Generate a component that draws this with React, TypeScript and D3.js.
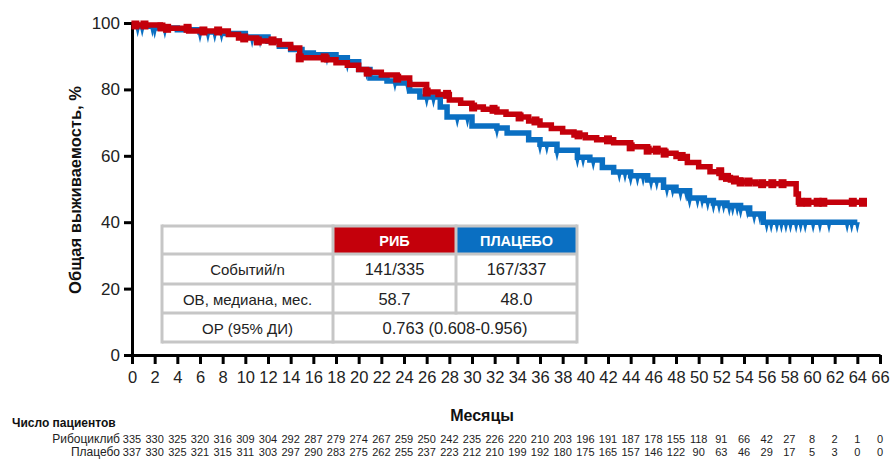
import React, { useRef, useEffect } from "react";
import * as d3 from "d3";

// Kaplan-Meier steps: [month, % alive]
const ribSteps: [number, number][] = [
  [0, 99.4], [2.5, 98.8], [3, 98.4], [5, 97.6], [8.5, 96.5], [9.4, 95.5], [11, 94.6],
  [13, 93.5], [14, 92.5], [14.8, 89.5], [17.2, 88.9], [18, 88], [19, 87.3], [20, 86],
  [20.7, 85.2], [22, 84.3], [23.4, 83.4], [24.5, 81.5], [26, 79.2], [27, 78.5], [28, 76.8],
  [29, 75.8], [30, 74.7], [31, 74], [32.2, 73.2], [33, 72.5], [34.2, 71.7], [35, 70.5],
  [36, 69.3], [37, 68.2], [38, 67.2], [39, 66.3], [40, 65.4], [41, 64.8], [42.5, 63.9],
  [44, 62.7], [45.5, 61.7], [47, 60.8], [48, 59.8], [49, 58], [50, 56.7], [51, 55.2],
  [52, 53.5], [52.8, 52.7], [53.7, 52.1], [55, 51.6], [58.6, 48.5], [58.8, 46],
];
const ribEnd = 64.7;

const placeboSteps: [number, number][] = [
  [0, 99.3], [0.5, 99], [2, 98.5], [4, 98], [6, 97.3], [8, 96.8], [10, 95.8], [12, 94.5],
  [13, 93], [14, 92], [15, 91], [16, 90.4], [18, 89.5], [19, 88.3], [20, 86], [21, 83.4],
  [22.5, 82.5], [23.4, 81.9], [24.5, 79.5], [25.4, 77.7], [27.2, 74.7], [27.8, 71.7],
  [30, 69], [32.2, 68.4], [33.1, 66.9], [35, 64.8], [36, 63.5], [37.5, 61.7], [39.3, 59.6],
  [40.4, 58.7], [41.5, 56.5], [42.5, 55.1], [44, 54], [45.5, 52.7], [46.9, 50.5], [48, 49.5],
  [49.2, 47.3], [50.5, 46.5], [51.3, 45.8], [52.5, 45], [53.7, 44.3], [54.5, 42.5],
  [55.7, 40],
];
const placeboEnd = 64;

const ribCensored = [
  0.3, 1.1, 2.6, 3.1, 4.9, 6.3, 7.6, 9.9, 11.1, 12.4, 14.8, 17, 20.8, 23.4, 26, 27.8, 30.1,
  31.9, 34.2, 35.6, 39.4, 42, 44, 45.5, 46.3, 47, 48.5, 51.9, 52.5, 53.2, 53.7, 54.4, 55.6,
  56.5, 57.4, 59, 59.6, 60.5, 61, 63.6, 64.5,
];
const placeboCensored = [
  0.5, 0.9, 1.8, 2, 2.9, 6, 6.7, 7.3, 7.9, 10.6, 11.3, 17.2, 19, 20.7, 23.2, 24.3, 26, 26.6,
  28.7, 29.6, 32.2, 36, 36.6, 37.5, 39.3, 39.8, 40.7, 43, 43.5, 44, 44.6, 45.1, 45.8, 46.3,
  47.2, 47.7, 48.4, 48.9, 49.2, 49.9, 50.3, 50.8, 51.3, 51.8, 52.2, 52.7, 53, 53.4, 53.7,
  54.3, 54.9, 55.4, 56, 56.4, 56.9, 57.3, 57.7, 58.1, 58.6, 59, 59.4, 60.1, 60.7, 61.5,
  63.1, 63.5, 64,
];

const xTicks = d3.range(0, 67, 2);
const yTicks = [0, 20, 40, 60, 80, 100];

const atRiskRib = [335, 330, 325, 320, 316, 309, 304, 292, 287, 279, 274, 267, 259, 250, 242, 235, 226, 220, 210, 203, 196, 191, 187, 178, 155, 118, 91, 66, 42, 27, 8, 2, 1, 0];
const atRiskPlacebo = [337, 330, 325, 321, 315, 311, 303, 297, 290, 283, 275, 262, 255, 237, 223, 212, 210, 199, 192, 180, 175, 165, 157, 146, 122, 90, 63, 46, 29, 17, 5, 3, 0, 0];

const tableHeader = ["", "РИБ", "ПЛАЦЕБО"];
const tableRows = [
  ["Событий/n", "141/335", "167/337"],
  ["ОВ, медиана, мес.", "58.7", "48.0"],
  ["ОР (95% ДИ)", "0.763 (0.608-0.956)"],
];

const RED = "#c4000b";
const BLUE = "#0a6fc2";
const FONT = "'Liberation Sans', Arial, sans-serif";

function valueAt(steps: [number, number][], t: number) {
  let v = steps[0][1];
  for (const [tt, s] of steps) if (tt <= t) v = s;
  return v;
}

function App() {
  const svgRef = useRef<SVGSVGElement>(null);

  useEffect(() => {
    const svg = d3.select(svgRef.current);
    svg.selectAll("*").remove();

    const x = d3.scaleLinear().domain([0, 66]).range([132, 880]);
    const y = d3.scaleLinear().domain([0, 100]).range([355, 23]);

    // axes
    const yAxis = svg.append("g").attr("transform", "translate(132,0)")
      .call(d3.axisLeft(y).tickValues(yTicks).tickSize(8).tickSizeOuter(0).tickPadding(4));
    const xAxis = svg.append("g").attr("transform", "translate(0,355)")
      .call(d3.axisBottom(x).tickValues(xTicks).tickSize(9).tickSizeOuter(0).tickPadding(7));
    [yAxis, xAxis].forEach(g => {
      g.select(".domain").attr("stroke", "#000").attr("stroke-width", 3);
      g.selectAll(".tick line").attr("stroke", "#000").attr("stroke-width", 3);
      g.selectAll(".tick text").attr("fill", "#222").attr("font-family", FONT).attr("font-size", 17);
    });
    xAxis.selectAll(".tick text").attr("font-size", 16.5);

    svg.append("text")
      .attr("transform", "translate(81,190) rotate(-90)")
      .attr("text-anchor", "middle")
      .attr("font-family", FONT).attr("font-weight", "bold").attr("font-size", 16.5)
      .attr("fill", "#111")
      .text("Общая выживаемость, %");

    svg.append("text")
      .attr("x", 482).attr("y", 421)
      .attr("text-anchor", "middle")
      .attr("font-family", FONT).attr("font-weight", "bold").attr("font-size", 16)
      .attr("fill", "#111")
      .text("Месяцы");

    // curves
    const line = d3.line<[number, number]>()
      .x(d => x(d[0])).y(d => y(d[1]))
      .curve(d3.curveStepAfter);

    const series = [
      { steps: placeboSteps, end: placeboEnd, color: BLUE, censored: placeboCensored, mark: "spike" },
      { steps: ribSteps, end: ribEnd, color: RED, censored: ribCensored, mark: "square" },
    ];

    series.forEach(s => {
      const pts: [number, number][] = [...s.steps, [s.end, s.steps[s.steps.length - 1][1]]];
      svg.append("path")
        .attr("d", line(pts))
        .attr("fill", "none")
        .attr("stroke", s.color)
        .attr("stroke-width", 5.5);

      if (s.mark === "spike") {
        svg.append("g").selectAll("path")
          .data(s.censored)
          .join("path")
          .attr("d", t => {
            const cx = x(t), cy = y(valueAt(s.steps, t));
            return `M${cx - 2.5},${cy}L${cx + 2.5},${cy}L${cx},${cy + 11}Z`;
          })
          .attr("fill", s.color);
      } else {
        svg.append("g").selectAll("rect")
          .data(s.censored)
          .join("rect")
          .attr("x", t => x(t) - 4)
          .attr("y", t => y(valueAt(s.steps, t)) - 4.5)
          .attr("width", 8).attr("height", 9)
          .attr("fill", s.color);
      }
    });

    // table
    const colX = [162, 333, 456, 577];
    const rowY = [226, 254, 284, 313, 342];
    const tbl = svg.append("g");
    tbl.append("rect")
      .attr("x", colX[0]).attr("y", rowY[0])
      .attr("width", colX[3] - colX[0]).attr("height", rowY[4] - rowY[0])
      .attr("fill", "#fff");
    tbl.append("rect").attr("x", colX[1]).attr("y", rowY[0])
      .attr("width", colX[2] - colX[1]).attr("height", rowY[1] - rowY[0]).attr("fill", RED);
    tbl.append("rect").attr("x", colX[2]).attr("y", rowY[0])
      .attr("width", colX[3] - colX[2]).attr("height", rowY[1] - rowY[0]).attr("fill", BLUE);

    const gridColor = "#c6c6c6";
    rowY.forEach(ry => {
      tbl.append("line").attr("x1", colX[0]).attr("x2", colX[3]).attr("y1", ry).attr("y2", ry)
        .attr("stroke", gridColor).attr("stroke-width", 3);
    });
    colX.forEach((cx, i) => {
      const bottom = i === 2 ? rowY[3] : rowY[4];
      tbl.append("line").attr("x1", cx).attr("x2", cx).attr("y1", rowY[0] - 1.5).attr("y2", bottom + 1.5)
        .attr("stroke", gridColor).attr("stroke-width", 3);
    });

    tableHeader.forEach((h, i) => {
      if (!h) return;
      tbl.append("text")
        .attr("x", (colX[i] + colX[i + 1]) / 2).attr("y", 246)
        .attr("text-anchor", "middle")
        .attr("font-family", FONT).attr("font-weight", "bold").attr("font-size", 14.5)
        .attr("fill", "#fff").text(h);
    });
    const baselines = [275, 305, 334];
    tableRows.forEach((row, r) => {
      row.forEach((cell, c) => {
        const cx = row.length === 2 && c === 1
          ? (colX[1] + colX[3]) / 2
          : (colX[c] + colX[c + 1]) / 2;
        tbl.append("text")
          .attr("x", cx).attr("y", baselines[r])
          .attr("text-anchor", "middle")
          .attr("font-family", FONT).attr("font-size", c === 0 ? 15 : 16.5)
          .attr("fill", "#222").text(cell);
      });
    });

    // numbers at risk
    svg.append("text")
      .attr("x", 12).attr("y", 427)
      .attr("font-family", FONT).attr("font-weight", "bold").attr("font-size", 12)
      .attr("fill", "#111").text("Число пациентов");

    const riskRows = [
      { label: "Рибоциклиб", values: atRiskRib, yPos: 443 },
      { label: "Плацебо", values: atRiskPlacebo, yPos: 456 },
    ];
    riskRows.forEach(r => {
      svg.append("text")
        .attr("x", 120).attr("y", r.yPos).attr("text-anchor", "end")
        .attr("font-family", FONT).attr("font-size", 12).attr("fill", "#222")
        .text(r.label);
      svg.append("g").selectAll("text")
        .data(r.values)
        .join("text")
        .attr("x", (d, i) => x(xTicks[i]))
        .attr("y", r.yPos)
        .attr("text-anchor", "middle")
        .attr("font-family", FONT).attr("font-size", 11).attr("fill", "#222")
        .text(d => d);
    });
  }, []);

  return (
    <svg ref={svgRef} width={892} height={459}
      style={{ position: "absolute", left: 0, top: 0, background: "#fff" }} />
  );
}

export default App;
